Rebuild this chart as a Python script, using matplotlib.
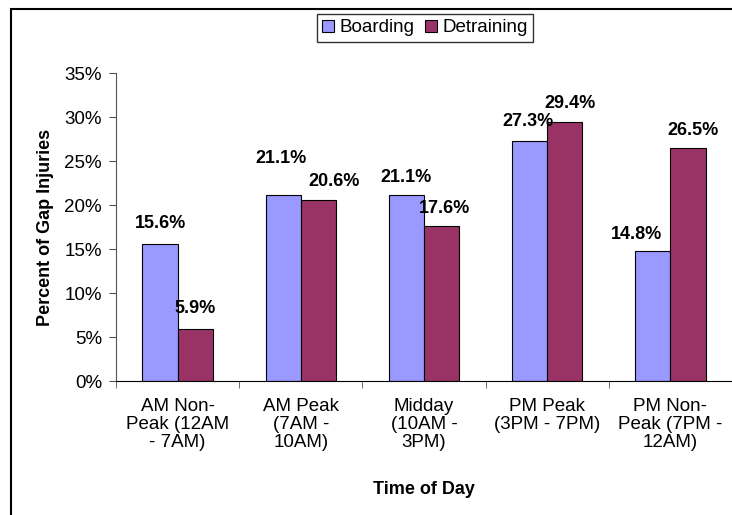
import matplotlib
matplotlib.use("Agg")
from matplotlib import pyplot as plt
from matplotlib.patches import Rectangle
import numpy as np

categories = ["AM Non-\nPeak (12AM\n- 7AM)", "AM Peak\n(7AM -\n10AM)", "Midday\n(10AM -\n3PM)",
              "PM Peak\n(3PM - 7PM)", "PM Non-\nPeak (7PM -\n12AM)"]
boarding = [15.6, 21.1, 21.1, 27.3, 14.8]
detraining = [5.9, 20.6, 17.6, 29.4, 26.5]

# label nudges (pixels: dx, dy of label centre above bar top), as placed in the original
boarding_nudge = [(0, 20), (-2, 37), (0, 18), (-2, 19), (-16, 16)]
detraining_nudge = [(0, 21), (16, 18), (3, 18), (5, 19), (5, 17)]


def main():
    plt.rcParams["font.family"] = ["Liberation Sans", "DejaVu Sans"]
    fig = plt.figure(figsize=(7.32, 5.15), dpi=100)
    ax = fig.add_axes([116 / 732, 1 - 381 / 515, 616 / 732, (381 - 73) / 515])

    x = np.arange(len(categories))
    w = 0.285
    b1 = ax.bar(x - w / 2, boarding, w, color="#9999FF", edgecolor="black", linewidth=0.8, label="Boarding")
    b2 = ax.bar(x + w / 2, detraining, w, color="#993366", edgecolor="black", linewidth=0.8, label="Detraining")

    for bars, vals, nudges in [(b1, boarding, boarding_nudge), (b2, detraining, detraining_nudge)]:
        for r, v, n in zip(bars, vals, nudges):
            ax.annotate("%.1f%%" % v, (r.get_x() + r.get_width() / 2, v), xytext=n,
                        textcoords="offset pixels", ha="center", va="center",
                        fontsize=13, fontweight="bold")

    ax.set_xlim(-0.5, len(categories) - 0.5)
    ax.set_ylim(0, 35)
    ax.set_yticks(np.arange(0, 36, 5))
    ax.set_yticklabels(["%d%%" % t for t in range(0, 36, 5)], fontsize=13.5)
    ax.set_xticks(x)
    ax.set_xticklabels(categories, fontsize=13.5, linespacing=1.1)
    ax.set_xticks(np.arange(-0.5, len(categories)), minor=True)
    ax.tick_params(axis="x", which="major", length=0, pad=12)
    ax.tick_params(axis="x", which="minor", length=5, direction="out", color="#555555")
    ax.tick_params(axis="y", length=5, direction="out", color="#555555", pad=5)
    for s in ["top", "right"]:
        ax.spines[s].set_visible(False)
    ax.spines["left"].set_color("#555555")
    ax.spines["bottom"].set_color("black")

    ax.set_ylabel("Percent of Gap Injuries", fontsize=13, fontweight="bold", va="center")
    ax.yaxis.set_label_coords(-0.115, 0.5)
    ax.set_xlabel("Time of Day", fontsize=13, fontweight="bold", va="center")
    ax.xaxis.set_label_coords(0.5, -0.351)

    leg = fig.legend(loc="center", bbox_to_anchor=(425 / 732, 1 - 28 / 515), ncol=2, fontsize=13.5,
                     frameon=True, fancybox=False, edgecolor="black", handlelength=0.6,
                     handleheight=0.6, handletextpad=0.3, columnspacing=0.6, borderpad=0.3)
    leg.get_frame().set_linewidth(1.0)

    # outer frame (left and top edges visible)
    fig.patches.append(Rectangle((11 / 732, -0.1), 1.2, 1 - 9 / 515 + 0.1, transform=fig.transFigure,
                                 fill=False, edgecolor="black", linewidth=1.5))

    plt.savefig("out.png", dpi=100)


if __name__ == "__main__":
    main()
